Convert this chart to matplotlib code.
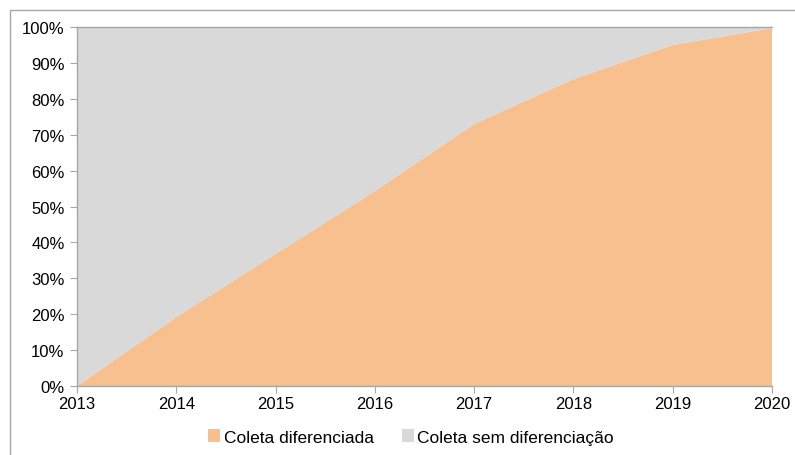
import matplotlib
matplotlib.use("Agg")
import matplotlib.pyplot as plt
from matplotlib.patches import Rectangle, Patch
from matplotlib.ticker import FuncFormatter

years = [2013, 2014, 2015, 2016, 2017, 2018, 2019, 2020]
coleta_dif = [0.0, 19.2, 36.8, 54.3, 73.0, 85.5, 95.0, 99.7]
coleta_sem = [100 - v for v in coleta_dif]
labels = ["Coleta diferenciada", "Coleta sem diferenciação"]
colors = ["#F9C08F", "#D9D9D9"]

plt.rcParams['font.family'] = ['Liberation Sans', 'DejaVu Sans']
plt.rcParams['font.size'] = 12

W, H = 795, 456
fig = plt.figure(figsize=(W/100, H/100), dpi=100)
ax = fig.add_axes([77/W, 1-387/H, (772-77)/W, (387-28)/H])

ax.stackplot(years, coleta_dif, coleta_sem, colors=colors, linewidth=0)
ax.set_xlim(2013, 2020)
ax.set_ylim(0, 100)
ax.set_xticks(years)
ax.set_yticks(range(0, 101, 10))
ax.yaxis.set_major_formatter(FuncFormatter(lambda v, p: f"{int(v)}%"))

ax.spines['right'].set_visible(False)
for s in ['left', 'bottom', 'top']:
    ax.spines[s].set_color('#A6A6A6')
    ax.spines[s].set_linewidth(1.0)
ax.tick_params(axis='both', direction='out', length=5, color='#A6A6A6', labelcolor='black', labelsize=12)
ax.tick_params(axis='y', pad=4)
ax.tick_params(axis='x', pad=2)

# outer chart border
fig.patches.append(Rectangle((10/W, -0.1), 1.2, 1 - 11/H + 0.1, transform=fig.transFigure,
                             fill=False, edgecolor='#A6A6A6', linewidth=1.0))

handles = [Patch(facecolor=c, edgecolor='none') for c in colors]
fig.legend(handles, labels, loc='center', bbox_to_anchor=(411/W, 1-438/H), ncol=2, frameon=False,
           handlelength=0.7, handleheight=0.7, handletextpad=0.2, columnspacing=1.6, fontsize=12.5)

fig.savefig("out.png", dpi=100)
